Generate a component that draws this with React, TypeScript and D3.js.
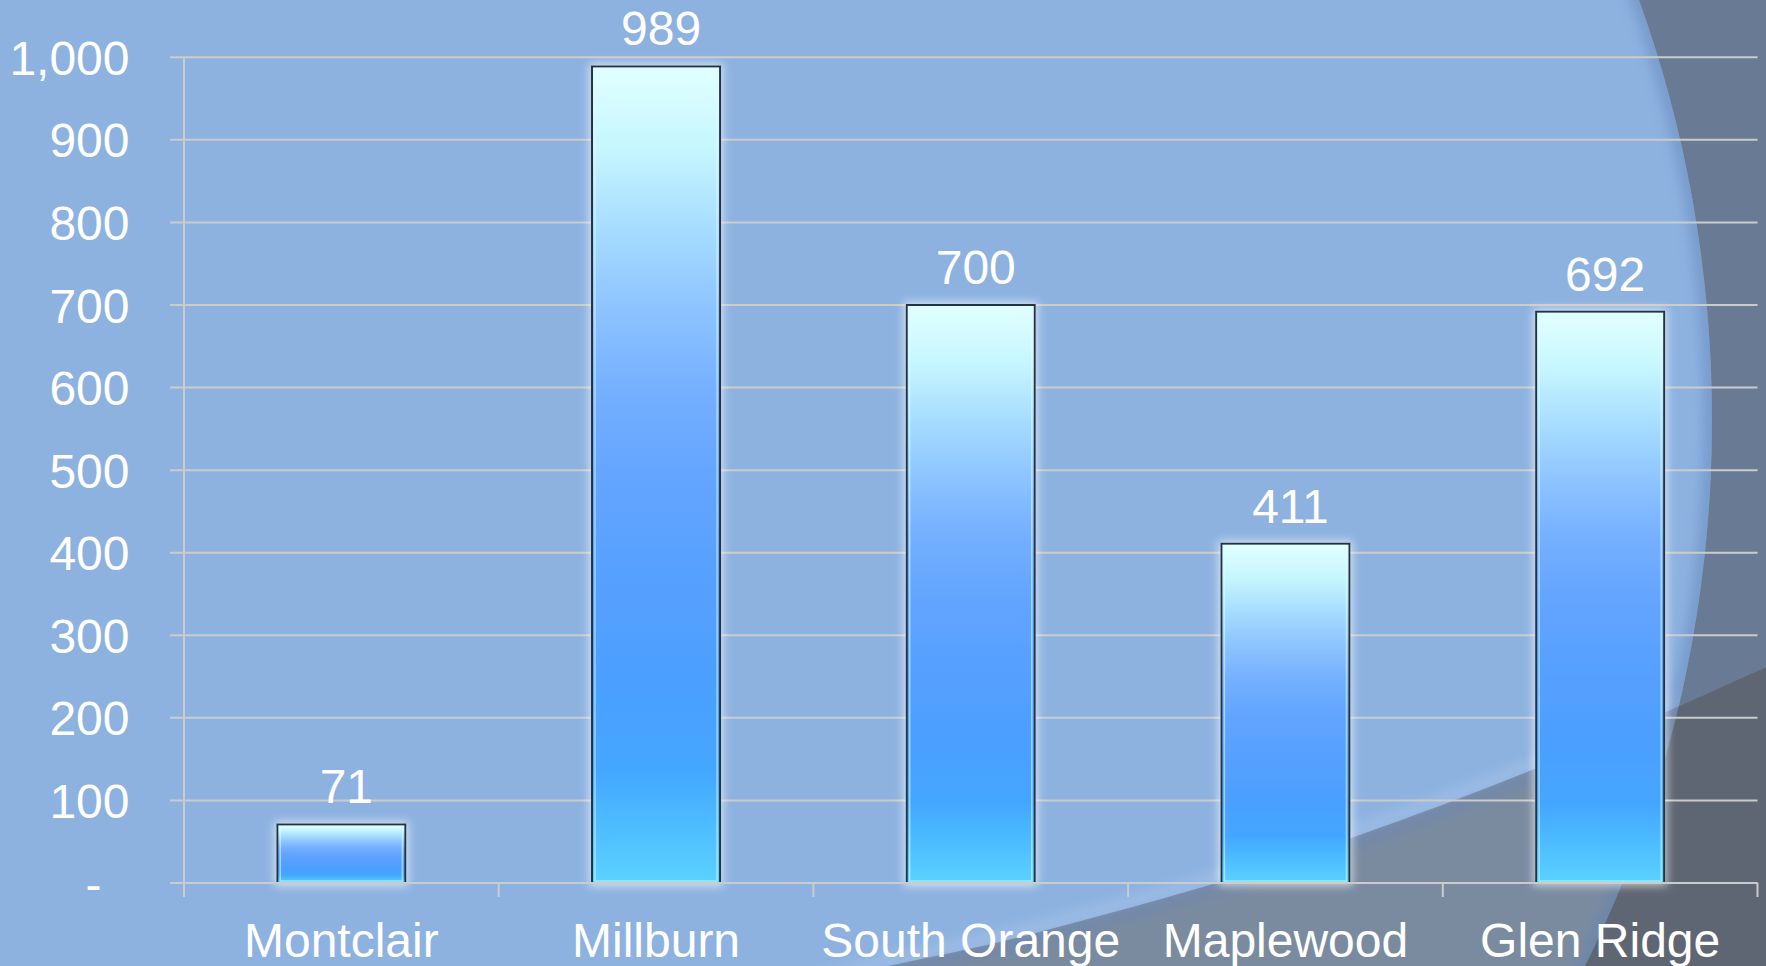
import React from "react";
import * as d3 from "d3";

const categories = ["Montclair", "Millburn", "South Orange", "Maplewood", "Glen Ridge"];
const values = [71, 989, 700, 411, 692];
const yTicks = [0, 100, 200, 300, 400, 500, 600, 700, 800, 900, 1000];

const W = 1766;
const H = 966;

const x = d3.scaleBand<string>().domain(categories).range([184, 1757.5]).paddingInner(0.593).paddingOuter(0.2965);
const y = d3.scaleLinear().domain([0, 1000]).range([883, 57.3]);
const fmt = (v: number) => (v === 0 ? "-" : d3.format(",")(v));

const arcPts: [number, number][] = [
  [800, 990], [882, 966], [985, 947], [1096, 917], [1221, 883], [1348, 840], [1533, 772], [1693, 700], [1800, 652],
];

export default function App() {
  const step = x.step();
  const x0 = x.range()[0];
  const boundaries = d3.range(categories.length + 1).map((i) => x0 + i * step);
  const arcLine = d3.line().curve(d3.curveBasis)(arcPts) as string;
  const lowerRegion = arcLine + " L1800,1010 L800,1010 Z";
  const ell = { cx: 712, cy: 420, rx: 1000, ry: 1120 };
  const ellipsePath = `M${ell.cx - ell.rx},${ell.cy} a${ell.rx},${ell.ry} 0 1,0 ${2 * ell.rx},0 a${ell.rx},${ell.ry} 0 1,0 ${-2 * ell.rx},0 Z`;
  const outsidePath = `M-10,-10 H${W + 10} V${H + 10} H-10 Z ` + ellipsePath;
  const font = "'Liberation Sans', Arial, sans-serif";

  return (
    <svg width={W} height={H} style={{ position: "absolute", left: 0, top: 0 }} fontFamily={font}>
      <defs>
        <linearGradient id="barGrad" x1="0" y1="0" x2="0" y2="1">
          <stop offset="0" stopColor="#e2ffff" />
          <stop offset="0.1" stopColor="#c6f6ff" />
          <stop offset="0.2" stopColor="#a6dcff" />
          <stop offset="0.3" stopColor="#8cc3ff" />
          <stop offset="0.4" stopColor="#74afff" />
          <stop offset="0.5" stopColor="#63a5ff" />
          <stop offset="0.62" stopColor="#57a0ff" />
          <stop offset="0.75" stopColor="#4c9fff" />
          <stop offset="0.86" stopColor="#43a6ff" />
          <stop offset="0.94" stopColor="#4fc0ff" />
          <stop offset="1" stopColor="#5bd2ff" />
        </linearGradient>
        <filter id="glow" x="-30%" y="-30%" width="160%" height="160%">
          <feMorphology in="SourceAlpha" operator="dilate" radius="2" result="d" />
          <feGaussianBlur in="d" stdDeviation="4" result="b" />
          <feFlood floodColor="#ffffff" floodOpacity="0.6" />
          <feComposite in2="b" operator="in" result="g" />
          <feMerge>
            <feMergeNode in="g" />
            <feMergeNode in="SourceGraphic" />
          </feMerge>
        </filter>
        <filter id="soft" x="-10%" y="-10%" width="120%" height="120%">
          <feGaussianBlur stdDeviation="6" />
        </filter>
        <clipPath id="outsideClip">
          <path d={outsidePath} clipRule="evenodd" />
        </clipPath>
        <clipPath id="insideClip">
          <path d={ellipsePath} />
        </clipPath>
        <clipPath id="lowerClip">
          <path d={lowerRegion} />
        </clipPath>
      </defs>

      {/* background */}
      <rect x={0} y={0} width={W} height={H} fill="#8db2e0" />
      <path d={lowerRegion} fill="#7a8ba0" />
      <g clipPath="url(#insideClip)">
        <path d={arcLine} fill="none" stroke="#ffffff" strokeOpacity={0.15} strokeWidth={10} filter="url(#soft)" transform="translate(0,-6)" />
        <path d={ellipsePath} fill="none" stroke="#5f80b4" strokeOpacity={0.45} strokeWidth={18} filter="url(#soft)" />
        <g clipPath="url(#lowerClip)">
          <path d={arcLine} fill="none" stroke="#6a86b0" strokeOpacity={0.6} strokeWidth={14} filter="url(#soft)" transform="translate(0,4)" />
        </g>
      </g>
      <path d={outsidePath} fill="#697b94" fillRule="evenodd" />
      <g clipPath="url(#outsideClip)">
        <path d={lowerRegion} fill="#5f6673" />
      </g>

      {/* gridlines */}
      {yTicks.map((t) => (
        <line key={"g" + t} x1={170} x2={1757.5} y1={y(t)} y2={y(t)} stroke="#cbcbcb" strokeWidth={2} />
      ))}
      {/* vertical axis */}
      <line x1={x0} x2={x0} y1={y(1000)} y2={897} stroke="#cbcbcb" strokeWidth={2} />
      {boundaries.slice(1).map((b, i) => (
        <line key={"t" + i} x1={b} x2={b} y1={y(0)} y2={897} stroke="#cbcbcb" strokeWidth={2} />
      ))}

      {/* y labels */}
      {yTicks.map((t) => (
        <text key={"yl" + t} x={129.5} y={y(t) + 17.5} dx={t === 0 ? -28 : 0} textAnchor="end" fontSize={48} fill="#ffffff">
          {fmt(t)}
        </text>
      ))}

      {/* bars */}
      {categories.map((c, i) => {
        const bx = x(c) as number;
        const bw = x.bandwidth();
        const by = y(values[i]);
        const bh = y(0) - by;
        return (
          <g key={c}>
            <rect x={bx} y={by} width={bw} height={bh} fill="url(#barGrad)" stroke="#243345" strokeWidth={2} filter="url(#glow)" />
            <rect x={bx + 3} y={by + 3} width={bw - 6} height={Math.max(0, bh - 5)} fill="none" stroke="#d8ffff" strokeOpacity={0.55} strokeWidth={1.5} />
          </g>
        );
      })}
      {/* axis line over bar bottoms */}
      <line x1={170} x2={1757.5} y1={y(0)} y2={y(0)} stroke="#cbcbcb" strokeWidth={2} />

      {/* value labels */}
      {categories.map((c, i) => (
        <text key={"v" + c} x={(x(c) as number) + x.bandwidth() / 2 + 5} y={y(values[i]) - 21} textAnchor="middle" fontSize={48} fill="#ffffff">
          {values[i]}
        </text>
      ))}

      {/* category labels */}
      {categories.map((c) => (
        <text key={"c" + c} x={(x(c) as number) + x.bandwidth() / 2} y={957} textAnchor="middle" fontSize={48} fill="#ffffff">
          {c}
        </text>
      ))}
    </svg>
  );
}
